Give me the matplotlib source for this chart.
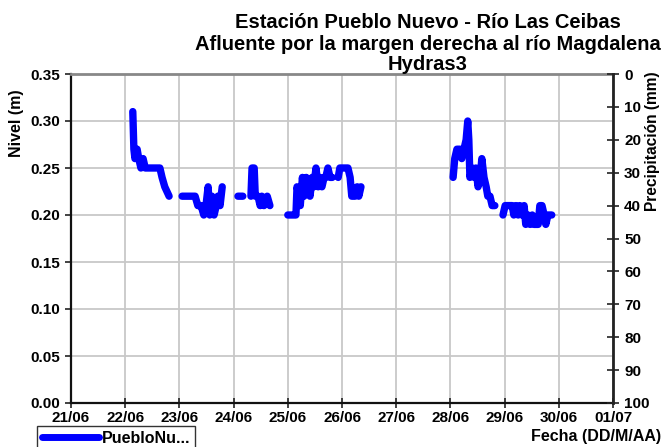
import numpy as np
import matplotlib
matplotlib.use("Agg")
import matplotlib.pyplot as plt
from matplotlib.lines import Line2D

nan = np.nan
# time in days since 21/06 00:00; NaN breaks the line
days = [1.14, 1.16, 1.18, 1.22, 1.25, 1.29, 1.33, 1.37, 1.46, 1.55, 1.64, 1.68, 1.73, 1.81, nan,
        2.05, 2.29, 2.34, 2.40, 2.45, 2.49, 2.53, 2.56, 2.60, 2.64, 2.68, 2.71, 2.75, 2.79, nan,
        3.08, 3.17, nan,
        3.32, 3.34, 3.38, 3.40, 3.45, 3.49, 3.52, 3.56, 3.62, 3.67, nan,
        4.00, 4.10, 4.15, 4.17, 4.21, 4.23, 4.27, 4.30, 4.34, 4.37, 4.41, 4.45, 4.48, 4.52, 4.56,
        4.59, 4.63, 4.67, 4.70, 4.74, 4.78, 4.82, nan,
        4.93, 4.96, 5.06, 5.11, 5.15, 5.18, 5.24, 5.28, 5.31, 5.35, nan,
        7.05, 7.08, 7.12, 7.18, 7.21, 7.25, 7.29, 7.32, 7.34, 7.36, 7.40, 7.44, 7.47, 7.51, 7.55,
        7.58, 7.62, 7.66, 7.69, 7.73, 7.77, 7.82, nan,
        7.97, 8.01, 8.06, 8.14, 8.17, 8.21, 8.25, 8.28, 8.32, 8.36, 8.39, 8.43, 8.47, 8.51, 8.54,
        8.58, 8.62, 8.65, 8.69, 8.73, 8.76, 8.80, 8.84, 8.87]
nivel = [0.31, 0.27, 0.26, 0.27, 0.26, 0.25, 0.26, 0.25, 0.25, 0.25, 0.25, 0.24, 0.23, 0.22, nan,
         0.22, 0.22, 0.21, 0.21, 0.20, 0.21, 0.23, 0.20, 0.22, 0.20, 0.21, 0.22, 0.21, 0.23, nan,
         0.22, 0.22, nan,
         0.22, 0.25, 0.25, 0.22, 0.22, 0.21, 0.22, 0.21, 0.22, 0.21, nan,
         0.20, 0.20, 0.20, 0.23, 0.22, 0.21, 0.24, 0.22, 0.24, 0.23, 0.22, 0.24, 0.23, 0.25, 0.23,
         0.24, 0.23, 0.24, 0.24, 0.25, 0.24, 0.24, nan,
         0.24, 0.25, 0.25, 0.25, 0.24, 0.22, 0.22, 0.23, 0.22, 0.23, nan,
         0.24, 0.26, 0.27, 0.27, 0.26, 0.27, 0.28, 0.30, 0.28, 0.24, 0.25, 0.24, 0.25, 0.23, 0.24,
         0.26, 0.24, 0.23, 0.22, 0.22, 0.21, 0.21, nan,
         0.20, 0.21, 0.21, 0.21, 0.20, 0.21, 0.20, 0.21, 0.20, 0.21, 0.19, 0.20, 0.19, 0.20, 0.19,
         0.19, 0.19, 0.21, 0.21, 0.20, 0.19, 0.20, 0.20, 0.20]

x_labels = ["21/06", "22/06", "23/06", "24/06", "25/06", "26/06", "27/06", "28/06", "29/06", "30/06", "01/07"]
y_left_ticks = [0.00, 0.05, 0.10, 0.15, 0.20, 0.25, 0.30, 0.35]
y_right_ticks = [0, 10, 20, 30, 40, 50, 60, 70, 80, 90, 100]
title_lines = ["Estación Pueblo Nuevo - Río Las Ceibas",
               "Afluente por la margen derecha al río Magdalena",
               "Hydras3"]
series_label = "PuebloNu..."

plt.rcParams['font.family'] = ['Liberation Sans', 'DejaVu Sans']
plt.rcParams['font.weight'] = 'bold'

fs = 11
fig = plt.figure(figsize=(6.63, 4.47), dpi=100)
ax = fig.add_axes([71/663, 44/447, 542/663, 329/447])

ax.plot(days, nivel, color='#0000ff', lw=5.3, solid_capstyle='round', solid_joinstyle='round', zorder=3)

ax.set_xlim(0, 10)
ax.set_ylim(0, 0.35)
ax.set_xticks(range(len(x_labels)))
ax.set_xticklabels(x_labels, fontsize=fs, fontweight='bold')
ax.set_yticks(y_left_ticks)
ax.set_yticklabels([f"{v:.2f}" for v in y_left_ticks], fontsize=fs, fontweight='bold')
ax.grid(True, color='#c8c8c8', lw=1.3)
ax.set_axisbelow(True)
ax.tick_params(axis='x', direction='inout', length=7, width=1.2, color='#222222', pad=2)
ax.tick_params(axis='y', direction='out', length=4, width=1.2, color='#222222', pad=4)

for s in ['left', 'bottom']:
    ax.spines[s].set_color('#111111')
    ax.spines[s].set_linewidth(1.6)
ax.spines['top'].set_color('#888888')
ax.spines['top'].set_linewidth(2)
ax.spines['right'].set_visible(False)

ax2 = ax.twinx()
ax2.set_ylim(100, 0)
ax2.set_yticks(y_right_ticks)
ax2.set_yticklabels([str(v) for v in y_right_ticks], fontsize=fs, fontweight='bold')
ax2.tick_params(axis='y', direction='inout', length=8, width=1.2, color='#222222', pad=4)
ax2.spines['right'].set_color('#222222')
ax2.spines['right'].set_linewidth(2)
for s in ['left', 'top', 'bottom']:
    ax2.spines[s].set_visible(False)

for line, base in zip(title_lines, [28, 49.5, 70]):
    fig.text(428/663, 1 - base/447, line, ha='center', va='baseline', fontsize=14.5,
             fontweight='bold')
fig.text(17/663, 1 - 123/447, "Nivel (m)", rotation=90, ha='center', va='center',
         fontsize=11.5, fontweight='bold')
fig.text(653/663, 1 - 141/447, "Precipitación (mm)", rotation=90, ha='center', va='center',
         fontsize=11.2, fontweight='bold')
fig.text(661/663, 1 - 437/447, "Fecha (DD/M/AA)", ha='right', va='center',
         fontsize=11.5, fontweight='bold')

handle = Line2D([], [], color='#0000ff', lw=5, solid_capstyle='round')
leg = fig.legend([handle], [series_label], loc='upper left',
                 bbox_to_anchor=(37/663, 1 - 426/447), fontsize=11.5,
                 frameon=True, fancybox=False, edgecolor='#000000',
                 handlelength=3.6, handletextpad=0.15, borderpad=0.3, borderaxespad=0)
leg.get_frame().set_linewidth(1)
for t in leg.get_texts():
    t.set_fontweight('bold')

fig.savefig("out.png", dpi=100)
